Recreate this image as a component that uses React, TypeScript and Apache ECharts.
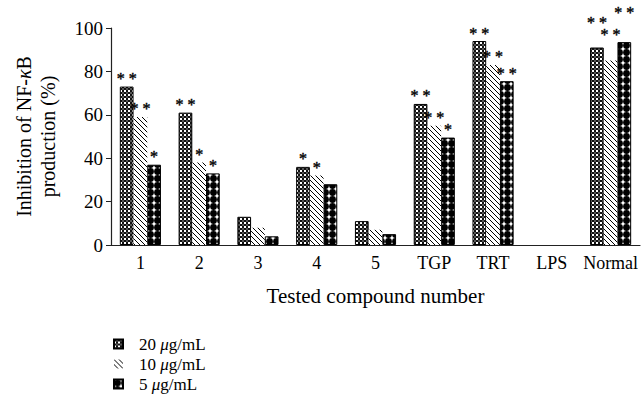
import React, { useEffect, useRef } from 'react';
import * as echarts from 'echarts';

const categories = ['1', '2', '3', '4', '5', 'TGP', 'TRT', 'LPS', 'Normal'];
const seriesNames = ['20 μg/mL', '10 μg/mL', '5 μg/mL'];
const values20 = [73, 61, 13, 36, 11, 65, 94, 0, 91];
const values10 = [59, 38, 8, 32, 7, 55, 83, 0, 85];
const values5 = [37, 33, 4, 28, 5, 49.5, 75.5, 0, 93.5];
const stars20 = ['**', '**', '', '*', '', '**', '**', '', '**'];
const stars10 = ['**', '*', '', '*', '', '**', '**', '', '**'];
const stars5 = ['*', '*', '', '', '', '*', '**', '', '**'];

const FONT = '"Liberation Serif", "DejaVu Serif", serif';

function makePattern(kind: string) {
  const size = kind === 'checker' ? 4 : kind === 'hatch' ? 5 : 7;
  const c = document.createElement('canvas');
  c.width = size;
  c.height = size;
  const ctx = c.getContext('2d')!;
  ctx.fillStyle = '#fff';
  ctx.fillRect(0, 0, size, size);
  ctx.fillStyle = '#000';
  ctx.strokeStyle = '#000';
  if (kind === 'checker') {
    ctx.fillStyle = '#111';
    ctx.fillRect(0, 0, 2, 2);
    ctx.fillRect(2, 2, 2, 2);
    ctx.fillStyle = '#555';
    ctx.fillRect(2, 0, 2, 2);
  } else if (kind === 'hatch') {
    ctx.lineWidth = 1;
    ctx.beginPath();
    ctx.moveTo(-1, -1);
    ctx.lineTo(size + 1, size + 1);
    ctx.moveTo(-1, size - 1);
    ctx.lineTo(1, size + 1);
    ctx.moveTo(size - 1, -1);
    ctx.lineTo(size + 1, 1);
    ctx.stroke();
  } else {
    ctx.beginPath();
    ctx.arc(size / 2, size / 2, size / 2 - 0.1, 0, Math.PI * 2);
    ctx.fill();
  }
  return {
    image: c.toDataURL(),
    repeat: 'repeat',
    imageWidth: size,
    imageHeight: size,
  };
}

export default function App() {
  const ref = useRef<HTMLDivElement>(null);
  useEffect(() => {
    if (!ref.current) return;
    const chart = echarts.init(ref.current, undefined, { renderer: 'svg' });
    const patterns = [makePattern('checker'), makePattern('hatch'), makePattern('dots')];
    const valueSets = [values20, values10, values5];
    const starSets = [stars20, stars10, stars5];
    const normalLift = [-17, -18, -22];
    const normalIndex = categories.indexOf('Normal');
    const series = valueSets.map((vals, si) => ({
      name: seriesNames[si],
      type: 'bar',
      barGap: '0%',
      barCategoryGap: '30%',
      itemStyle: {
        color: patterns[si] as any,
        borderColor: si === 1 ? 'transparent' : '#000',
        borderWidth: si === 1 ? 0 : 1,
      },
      label: {
        show: true,
        position: 'top',
        distance: 0,
        color: '#000',
        textBorderColor: '#000',
        textBorderWidth: 0.4,
        fontFamily: FONT,
        fontSize: 16,
        formatter: (p: any) => starSets[si][p.dataIndex].split('').join(' '),
      },
      data: vals.map((v, i) => {
        const item: any = { value: v };
        if (i === normalIndex) item.label = { offset: [0, normalLift[si]] };
        if (v === 0) item.itemStyle = { borderWidth: 0, opacity: 0 };
        return item;
      }),
    }));
    chart.setOption({
      animation: false,
      grid: { left: 111, right: 3, top: 28, bottom: 152, containLabel: false },
      legend: {
        orient: 'vertical',
        left: 113,
        top: 334,
        padding: 0,
        icon: 'rect',
        itemWidth: 9,
        itemHeight: 9,
        itemGap: 0,
        data: seriesNames,
        formatter: (name: string) => '{s|}' + name.replace('μ', '{i|μ}'),
        textStyle: {
          fontFamily: FONT,
          fontSize: 17,
          color: '#000',
          lineHeight: 20,
          rich: {
            s: { width: 11 },
            i: { fontStyle: 'italic', fontFamily: FONT, fontSize: 17, color: '#000', lineHeight: 20 },
          },
        },
      },
      xAxis: {
        type: 'category',
        data: categories,
        name: 'Tested compound number',
        nameLocation: 'middle',
        nameGap: 40,
        nameTextStyle: { fontFamily: FONT, fontSize: 21, color: '#000' },
        axisLine: { lineStyle: { color: '#222', width: 1.2 } },
        axisTick: { show: false },
        axisLabel: { fontFamily: FONT, fontSize: 18, color: '#000', margin: 9, interval: 0 },
      },
      yAxis: {
        type: 'value',
        min: 0,
        max: 100,
        interval: 20,
        name: 'Inhibition of NF-{i|κ}B\nproduction (%)',
        nameLocation: 'middle',
        nameGap: 51,
        nameTextStyle: {
          fontFamily: FONT,
          fontSize: 20,
          color: '#000',
          lineHeight: 24,
          rich: { i: { fontStyle: 'italic', fontFamily: FONT, fontSize: 20, color: '#000', lineHeight: 24 } },
        },
        splitLine: { show: false },
        axisLine: { show: true, lineStyle: { color: '#222', width: 1.2 } },
        axisTick: { show: true, length: 5, lineStyle: { color: '#222' } },
        axisLabel: { fontFamily: FONT, fontSize: 19, color: '#000', margin: 8 },
      },
      series,
    });
    return () => chart.dispose();
  }, []);
  return <div ref={ref} style={{ width: 643, height: 397, position: 'absolute', left: 0, top: 0 }} />;
}
